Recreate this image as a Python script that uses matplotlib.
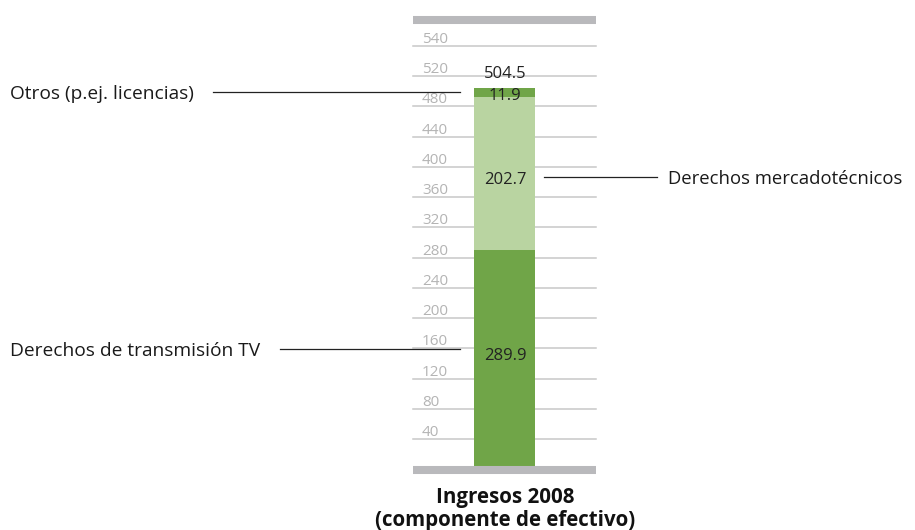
import matplotlib
matplotlib.use("Agg")
from matplotlib import pyplot as plt

plt.rcParams['font.family'] = ['Open Sans', 'DejaVu Sans']

# data
segments = ["Derechos de transmisión TV", "Derechos mercadotécnicos", "Otros (p.ej. licencias)"]
values = [289.9, 202.7, 11.9]
total = 504.5
grid_vals = [40, 80, 120, 160, 200, 240, 280, 320, 360, 400, 440, 480, 520, 560]
grid_labels = ["40", "80", "120", "160", "200", "240", "280", "320", "360", "400", "440", "480", "520", "540"]
title = "Ingresos 2008\n(componente de efectivo)"

dark = "#70a548"
light = "#b9d4a1"
colors = [dark, light, dark]

# 1 data unit = 0.757 px, zero at pixel row 469.6
px = 0.757
y0 = 469.6

fig = plt.figure(figsize=(9.15, 5.3), dpi=100)
ax = fig.add_axes([0, 0, 1, 1])
ax.set_xlim(0, 915)
ax.set_ylim((y0 - 530) / px, y0 / px)
ax.axis("off")

# gridlines + labels
for v, lab in zip(grid_vals, grid_labels):
    ax.plot([413, 596], [v, v], color="#c8c8c8", lw=1.1, zorder=1)
    ax.text(422, v + 3 / px, lab, color="#b4b4b4", fontsize=11,
            ha="left", va="baseline")

# gray frame bars
ax.plot([413, 596], [0, 0], color="#b9b9bc", lw=5.8, solid_capstyle="butt", zorder=3)
ax.plot([413, 596], [593.5, 593.5], color="#b9b9bc", lw=5.8, solid_capstyle="butt", zorder=3)

# stacked bar
bottom = 0
mids = []
for v, c in zip(values, colors):
    ax.bar(504.5, v, width=61, bottom=bottom, color=c, zorder=2)
    mids.append(bottom + v / 2)
    bottom += v

# value labels
vfs = 12
ax.text(505, mids[0] + 6 / px, f"{values[0]:.1f}", ha="center", va="center_baseline", fontsize=vfs, color="#222222", zorder=4)
ax.text(505, mids[1] - 5 / px, f"{values[1]:.1f}", ha="center", va="center_baseline", fontsize=vfs, color="#222222", zorder=4)
ax.text(505, mids[2] - 2 / px, f"{values[2]:.1f}", ha="center", va="center_baseline", fontsize=vfs, color="#222222", zorder=4)
ax.text(505, total + 16 / px, f"{total:.1f}", ha="center", va="center_baseline", fontsize=vfs, color="#222222", zorder=4)

# leader lines and category labels
lfs = 13.8
ly_tv = mids[0] + 11 / px
ly_mk = mids[1] - 4 / px
ly_ot = mids[2]
ax.plot([280, 460], [ly_tv, ly_tv], color="#222222", lw=0.9, zorder=4)
ax.text(10, ly_tv, segments[0], ha="left", va="center_baseline", fontsize=lfs, color="#1a1a1a")
ax.plot([544, 657], [ly_mk, ly_mk], color="#222222", lw=0.9, zorder=4)
ax.text(668, ly_mk, segments[1], ha="left", va="center_baseline", fontsize=13.3, color="#1a1a1a")
ax.plot([213, 460], [ly_ot, ly_ot], color="#222222", lw=0.9, zorder=4)
ax.text(10, ly_ot, segments[2], ha="left", va="center_baseline", fontsize=lfs, color="#1a1a1a")

# title below
ax.text(505, (y0 - 509) / px, title, ha="center", va="center", fontsize=14.8,
        fontweight="bold", color="#111111", linespacing=1.1)

fig.savefig("out.png", dpi=100)
